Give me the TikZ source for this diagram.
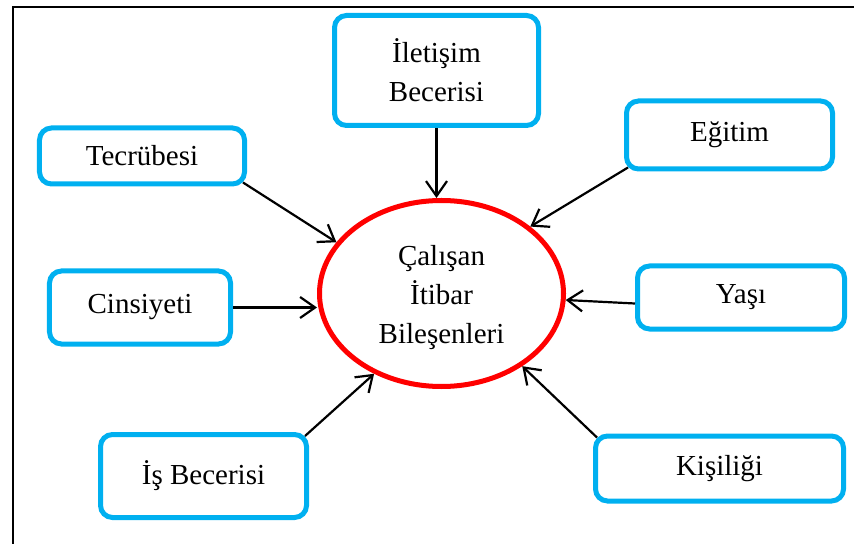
\documentclass[tikz,border=0pt]{standalone}
\usepackage{fontspec}
\setmainfont{Liberation Serif}
\usetikzlibrary{arrows.meta,shapes.geometric}
\definecolor{boxblue}{RGB}{0,176,240}
\definecolor{ringred}{RGB}{255,0,0}
\begin{document}
\begin{tikzpicture}[x=1bp,y=-1bp,
  labeltext/.style={align=center, inner sep=0pt, font=\fontsize{29bp}{39bp}\selectfont},
  factor/.style={labeltext, draw=boxblue, line width=5bp, rounded corners=12bp},
  core/.style={ellipse, draw=ringred, line width=5bp, inner sep=0pt},
  link/.style={line width=2.2bp,
    -{Straight Barb[length=15bp,width=21bp,line width=2.2bp]}}]
\useasboundingbox (0,0) rectangle (854,544);
% outer frame
\draw[line width=1.5bp] (13,544) -- (13,7) -- (854,7);

% central component
\node[core, minimum width=244bp, minimum height=186bp] (emp) at (441.5,293.5) {};
\node[labeltext] (emptext) at (441.5,298) {Çalışan\\İtibar\\Bileşenleri};

% surrounding factors
\node[factor, minimum width=204bp, minimum height=110bp] (ilet) at (436.5,70.5) {İletişim\\Becerisi};
\node[factor, minimum width=205bp, minimum height=56bp] (tec) at (142,156) {Tecrübesi};
\node[factor, minimum width=206bp, minimum height=68bp] (egi) at (729.5,135) {Eğitim};
\node[factor, minimum width=181bp, minimum height=73bp] (cins) at (140,307.5) {Cinsiyeti};
\node[factor, minimum width=207bp, minimum height=63bp] (yas) at (741,297.5) {Yaşı};
\node[factor, minimum width=206bp, minimum height=83bp] (isb) at (203.5,476) {İş Becerisi};
\node[factor, minimum width=248bp, minimum height=65bp] (kis) at (719.5,468.5) {Kişiliği};

% arrows into the centre
\draw[link] (ilet.south) -- (emp.north -| ilet.south);
\draw[link] ([xshift=-4bp,yshift=4bp]tec.south east) -- (emp.154.4);
\draw[link] ([xshift=4bp,yshift=4bp]egi.south west) -- (emp.37.3);
\draw[link] (cins.east) -- (cins.east -| emp.west);
\draw[link] ([yshift=-6bp]yas.west) -- (emp.-3);
\draw[link] ([xshift=-4bp,yshift=-4bp]isb.north east) -- (emp.230.2);
\draw[link] ([xshift=4bp,yshift=-4bp]kis.north west) -- (emp.-42.3);
\end{tikzpicture}
\end{document}
